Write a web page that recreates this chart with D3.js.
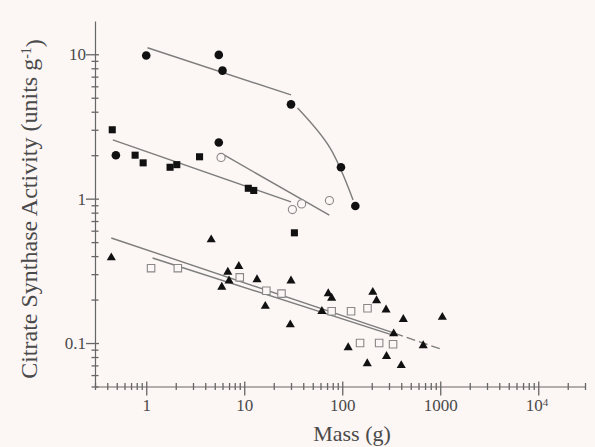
<!DOCTYPE html>
<html lang="en">
<head>
<meta charset="UTF-8">
<title>Citrate synthase vs mass</title>
<script src="https://d3js.org/d3.v7.min.js"></script>
<style>
    body { margin: 0; background: #fcf6f5; }
    svg text { font-family: "Liberation Serif", "DejaVu Serif", serif; fill: #4a4a4a; }
</style>
</head>
<body>
<script>
    // values (mass in g, activity in units/g)
    var filledCircles = [[1, 9.8], [5.5, 9.9], [6, 7.7], [30, 4.5], [97, 1.65], [136, 0.89], [5.5, 2.45], [0.49, 2.0]];
    var filledSquares = [[0.45, 3.0], [0.77, 2.0], [0.93, 1.77], [1.75, 1.65], [2.05, 1.72], [3.5, 1.95], [11, 1.18], [12.5, 1.14], [32.5, 0.58]];
    var openCircles = [[5.8, 1.93], [31, 0.84], [38.5, 0.92], [74, 0.97]];
    var triangles = [[0.44, 0.39], [4.6, 0.52], [5.9, 0.244], [6.8, 0.31], [7.0, 0.27], [8.8, 0.34], [13.5, 0.275],
        [16.4, 0.18], [30, 0.27], [29.5, 0.134], [72, 0.22], [78, 0.205], [62, 0.166], [205, 0.225], [224, 0.197],
        [280, 0.17], [420, 0.146], [1050, 0.151], [335, 0.116], [670, 0.096], [115, 0.093], [283, 0.081],
        [180, 0.072], [400, 0.07]];
    var openSquares = [[1.12, 0.33], [2.1, 0.33], [9, 0.285], [16.8, 0.23], [24, 0.22], [78, 0.166], [123, 0.166],
        [181, 0.174], [152, 0.1], [238, 0.1], [330, 0.098]];

    // fitted lines
    var circleFit = [[1.03, 11.1], [30, 5.23]];
    var circleCurve = [[35, 4.25], [75, 2.25], [129, 0.98]];
    var squareFit = [[0.456, 2.55], [30, 0.95]];
    var openCircleFit = [[5.97, 2.04], [73.8, 0.768]];
    var triangleFit = [[0.44, 0.534], [340, 0.117]];
    var triangleFitDashed = [[340, 0.117], [1054, 0.09]];
    var openSquareFit = [[1.16, 0.388], [334, 0.113]];

    var xDomain = [0.3, 30000];
    var yDomain = [0.05, 17];
    var xLabels = [1, 10, 100, 1000, 10000];
    var yLabels = [0.1, 1, 10];

    var width = 595, height = 447;
    var margin = { top: 21, right: 10, bottom: 60.5, left: 95 };

    var svg = d3.select("body").append("svg")
        .attr("width", width)
        .attr("height", height);

    var x = d3.scaleLog().domain(xDomain).range([margin.left, width - margin.right]);
    var y = d3.scaleLog().domain(yDomain).range([height - margin.bottom, margin.top]);

    var axisColor = "#666";

    // x axis
    var xAxis = svg.append("g")
        .attr("transform", "translate(0," + (height - margin.bottom) + ")")
        .call(d3.axisBottom(x).ticks(20).tickSizeOuter(0).tickFormat(""));
    xAxis.select(".domain").attr("stroke", axisColor).attr("stroke-width", 1.2);
    xAxis.selectAll(".tick line")
        .attr("stroke", axisColor).attr("stroke-width", 1.3)
        .attr("y1", function (d) { return xLabels.indexOf(d) >= 0 ? -5 : -3.5; })
        .attr("y2", function (d) { return xLabels.indexOf(d) >= 0 ? 9 : 3.5; });
    xAxis.selectAll(".tick").filter(function (d) { return xLabels.indexOf(d) >= 0; })
        .select("text")
        .attr("y", 12)
        .attr("dy", "0.71em")
        .attr("font-size", 17)
        .attr("fill", "#4a4a4a")
        .each(function (d) {
            var t = d3.select(this);
            if (d >= 10000) {
                t.text("10").attr("dx", "-0.1em");
                t.append("tspan").attr("dy", "-0.45em").attr("font-size", 11).text("4");
            } else {
                t.text(d);
            }
        });

    // y axis
    var yAxis = svg.append("g")
        .attr("transform", "translate(" + margin.left + ",0)")
        .call(d3.axisLeft(y).ticks(20).tickSizeOuter(0).tickFormat(""));
    yAxis.select(".domain").attr("stroke", axisColor).attr("stroke-width", 1.2);
    yAxis.selectAll(".tick line")
        .attr("stroke", axisColor).attr("stroke-width", 1.3)
        .attr("x1", function (d) { return yLabels.indexOf(d) >= 0 ? -9 : -3.5; })
        .attr("x2", function (d) { return yLabels.indexOf(d) >= 0 ? 4 : 3.5; });
    yAxis.selectAll(".tick").filter(function (d) { return yLabels.indexOf(d) >= 0; })
        .select("text")
        .attr("x", -9)
        .attr("dy", "0.32em")
        .attr("font-size", 17)
        .attr("fill", "#4a4a4a")
        .text(function (d) { return d; });

    // axis titles
    svg.append("text")
        .attr("x", 352)
        .attr("y", 441)
        .attr("text-anchor", "middle")
        .attr("font-size", 22)
        .text("Mass (g)");

    var yTitle = svg.append("text")
        .attr("transform", "translate(37,209) rotate(-90)")
        .attr("text-anchor", "middle")
        .attr("font-size", 24)
        .text("Citrate Synthase Activity (units g");
    yTitle.append("tspan").attr("dy", "-0.45em").attr("font-size", 14).text("-1");
    yTitle.append("tspan").attr("dy", "0.45em").text(")");

    // fit lines
    var line = d3.line().x(function (d) { return x(d[0]); }).y(function (d) { return y(d[1]); });
    var curve = d3.line().curve(d3.curveNatural)
        .x(function (d) { return x(d[0]); }).y(function (d) { return y(d[1]); });
    var lineColor = "#7d7d7d";

    [circleFit, squareFit, openCircleFit, triangleFit, openSquareFit].forEach(function (pts) {
        svg.append("path").attr("d", line(pts))
            .attr("fill", "none").attr("stroke", lineColor).attr("stroke-width", 1.4);
    });
    svg.append("path").attr("d", line(triangleFitDashed))
        .attr("fill", "none").attr("stroke", lineColor).attr("stroke-width", 1.4)
        .attr("stroke-dasharray", "9,4");
    svg.append("path").attr("d", curve(circleCurve))
        .attr("fill", "none").attr("stroke", lineColor).attr("stroke-width", 1.4);

    // markers
    function drawPoints(data, type, size, filled) {
        svg.append("g").selectAll("path")
            .data(data)
            .enter()
            .append("path")
            .attr("transform", function (d) { return "translate(" + x(d[0]) + "," + y(d[1]) + ")"; })
            .attr("d", d3.symbol().type(type).size(size))
            .attr("fill", filled ? "#111" : "#fcf6f5")
            .attr("stroke", filled ? "none" : "#888")
            .attr("stroke-width", 1.1);
    }
    drawPoints(openSquares, d3.symbolSquare, 56, false);
    drawPoints(openCircles, d3.symbolCircle, 52, false);
    drawPoints(triangles, d3.symbolTriangle, 36, true);
    drawPoints(filledSquares, d3.symbolSquare, 50, true);
    drawPoints(filledCircles, d3.symbolCircle, 58, true);
</script>
</body>
</html>
